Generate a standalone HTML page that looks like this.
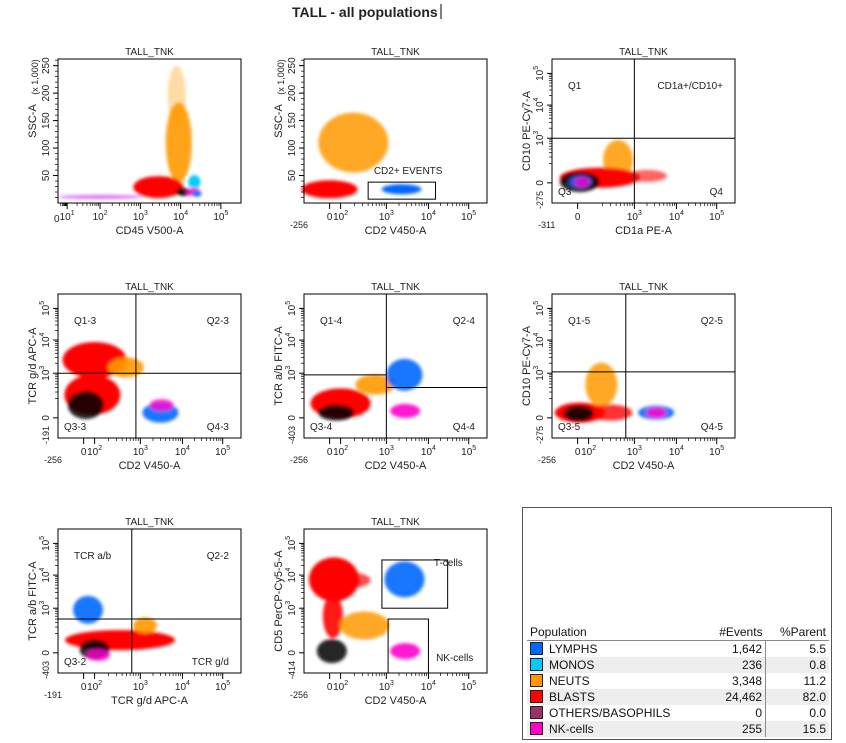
<!DOCTYPE html>
<html><head><meta charset="utf-8"><style>
body{margin:0;background:#fff;font-family:"Liberation Sans",sans-serif;}
svg text{font-family:"Liberation Sans",sans-serif;fill:#222;}
#tbl{position:absolute;left:522px;top:507px;width:310px;height:233px;border:1px solid #555;box-sizing:border-box;font-size:12px;color:#111;}
#tbl table{position:absolute;left:4px;top:116px;width:302px;border-collapse:collapse;}
#tbl td{height:16px;padding:0 3px;line-height:16px;}
.sw{display:inline-block;width:11px;height:11px;border:1px solid #222;vertical-align:-2px;margin-right:6px;}
</style></head><body>
<svg id="fig" width="846" height="743" style="position:absolute;left:0;top:0">
<defs><filter id="bl" x="-50%" y="-50%" width="200%" height="200%"><feGaussianBlur stdDeviation="1.6"/></filter></defs>
<text x="292" y="17" font-size="14" font-weight="bold">TALL - all populations</text>
<line x1="441" y1="4" x2="441" y2="19" stroke="#000"/>
</svg>
<div id="tbl">
<table>
<tr style="border-bottom:1px solid #888"><td>Population</td><td style="text-align:right">#Events</td><td style="text-align:right">%Parent</td></tr>
<tr><td><span class="sw" style="background:#0066ff"></span>LYMPHS</td><td style="text-align:right;border-right:1px solid #888">1,642</td><td style="text-align:right">5.5</td></tr>
<tr style="background:#eee"><td><span class="sw" style="background:#00ccff"></span>MONOS</td><td style="text-align:right;border-right:1px solid #888">236</td><td style="text-align:right">0.8</td></tr>
<tr><td><span class="sw" style="background:#ff9900"></span>NEUTS</td><td style="text-align:right;border-right:1px solid #888">3,348</td><td style="text-align:right">11.2</td></tr>
<tr style="background:#eee"><td><span class="sw" style="background:#ff0000"></span>BLASTS</td><td style="text-align:right;border-right:1px solid #888">24,462</td><td style="text-align:right">82.0</td></tr>
<tr><td><span class="sw" style="background:#993366"></span>OTHERS/BASOPHILS</td><td style="text-align:right;border-right:1px solid #888">0</td><td style="text-align:right">0.0</td></tr>
<tr style="background:#eee"><td><span class="sw" style="background:#ff00cc"></span>NK-cells</td><td style="text-align:right;border-right:1px solid #888">255</td><td style="text-align:right">15.5</td></tr>
</table></div>
<script>
// cluster arrays: [color, xValue, yValue, rxPx, ryPx, opacity]
const p1Clusters=[["#ff9900",9000,110000,13,40,0.9],["#ff9900",8000,195000,9,30,0.35],["#cc33ff",100,11000,42,2,0.7],["#ff0000",2800,29000,25,11,1],["#00ccff",22000,38000,6,7,1],["#000000",12000,20000,8,4,0.9],["#ff00cc",21000,20000,7,4,1],["#0066ff",25000,17000,5,3,1]];
const p2Clusters=[["#ff9900",190,110000,35,30,0.85],["#ff0000",0,25000,28,9,1],["#0066ff",2300,25000,20,5,1]];
const p3Clusters=[["#ff9900",440,250,15,20,0.85],["#ff0000",175,60,40,10,1],["#ff0000",2000,80,20,6,0.6],["#000000",20,10,20,10,0.85],["#0066ff",25,15,12,6,0.8],["#ff00cc",40,10,8,5,0.8]];
const p4Clusters=[["#ff0000",100,2500,32,18,1],["#ff0000",80,250,28,20,1],["#ff9900",480,1500,18,10,0.9],["#000000",20,130,18,14,0.85],["#0066ff",3000,60,18,10,0.9],["#ff00cc",3200,130,12,6,0.8]];
const p5Clusters=[["#ff0000",100,145,30,15,1],["#ff9900",575,480,20,10,0.9],["#000000",60,60,18,8,0.85],["#0066ff",2700,900,18,16,0.9],["#ff00cc",2800,80,15,7,0.9]];
const p6Clusters=[["#ff0000",20,60,25,10,1],["#ff9900",190,480,16,22,0.85],["#ff0000",300,60,22,8,0.8],["#000000",10,50,15,8,0.85],["#0066ff",3300,60,18,7,0.9],["#ff00cc",3300,60,10,5,0.9]];
const p7Clusters=[["#0066ff",40,900,15,14,0.9],["#ff0000",360,130,55,10,1],["#ff9900",1300,330,12,8,0.9],["#000000",100,40,15,10,0.85],["#ff00cc",120,-40,12,6,0.8]];
const p8Clusters=[["#ff0000",40,7400,25,22,1],["#ff0000",150,7000,22,8,0.7],["#ff0000",30,600,10,22,0.9],["#ff9900",330,330,25,14,0.85],["#000000",20,20,15,12,0.85],["#0066ff",2700,7400,20,18,0.9],["#ff00cc",2800,20,15,8,0.9]];
const biexAnchors=[[0,0.14],[100,0.2],[1000,0.45],[10000,0.68],[100000,0.9]];
const logAnchors=[[1,0],[10,0.05],[100,0.23],[1000,0.45],[10000,0.67],[100000,0.89]];
const panelTitle="TALL_TNK";
const svg=document.getElementById('fig');const NS="http://www.w3.org/2000/svg";
function mk(t,a,p){const e=document.createElementNS(NS,t);for(const k in a)e.setAttribute(k,a[k]);(p||svg).appendChild(e);return e;}
function makeAxis(kind,min,max){
 if(kind==='lin')return v=>v/max;
 const an=kind==='log'?logAnchors:[[min,0]].concat(biexAnchors);
 return v=>{if(v<=an[0][0])return an[0][1];
  for(let i=1;i<an.length;i++){const a=an[i-1],b=an[i];if(v<=b[0]){
   if(a[0]>0)return a[1]+(Math.log10(v)-Math.log10(a[0]))/(Math.log10(b[0])-Math.log10(a[0]))*(b[1]-a[1]);
   return a[1]+(v-a[0])/(b[0]-a[0])*(b[1]-a[1]);}}
  const a=an[an.length-2],b=an[an.length-1];return b[1]+(Math.log10(v)-Math.log10(b[0]))/(Math.log10(b[0])-Math.log10(a[0]))*(b[1]-a[1]);};
}
const W=183,H=144;
const panels=[
 {x:58,y:59,xl:"CD45 V500-A",yl:"SSC-A",xk:'log',xmin:1,yk:'lin',ymax:262144,cl:p1Clusters},
 {x:304,y:59,xl:"CD2 V450-A",yl:"SSC-A",xk:'biex',xmin:-256,yk:'lin',ymax:262144,cl:p2Clusters,gates:[[400,15000,7000,38000,"CD2+ EVENTS"]]},
 {x:552,y:59,xl:"CD1a PE-A",yl:"CD10 PE-Cy7-A",xk:'biex',xmin:-311,yk:'biex',ymin:-275,cl:p3Clusters,q:[1000,1000,1000],ql:["Q1","CD1a+/CD10+","Q3","Q4"],no100:true},
 {x:58,y:294,xl:"CD2 V450-A",yl:"TCR g/d APC-A",xk:'biex',xmin:-256,yk:'biex',ymin:-191,cl:p4Clusters,q:[800,1000,1000],ql:["Q1-3","Q2-3","Q3-3","Q4-3"]},
 {x:304,y:294,xl:"CD2 V450-A",yl:"TCR a/b FITC-A",xk:'biex',xmin:-256,yk:'biex',ymin:-403,cl:p5Clusters,q:[1000,900,400],ql:["Q1-4","Q2-4","Q3-4","Q4-4"]},
 {x:552,y:294,xl:"CD2 V450-A",yl:"CD10 PE-Cy7-A",xk:'biex',xmin:-256,yk:'biex',ymin:-275,cl:p6Clusters,q:[650,1100,1100],ql:["Q1-5","Q2-5","Q3-5","Q4-5"]},
 {x:58,y:529,xl:"TCR g/d APC-A",yl:"TCR a/b FITC-A",xk:'biex',xmin:-191,yk:'biex',ymin:-403,cl:p7Clusters,q:[650,500,500],ql:["TCR a/b","Q2-2","Q3-2","TCR g/d"]},
 {x:304,y:529,xl:"CD2 V450-A",yl:"CD5 PerCP-Cy5-5-A",xk:'biex',xmin:-256,yk:'biex',ymin:-414,cl:p8Clusters,gates:[[800,30000,1000,30000,"T-cells"],[1100,10000,-414,500,"NK-cells"]]}
];
panels.forEach((p,pi)=>{
 const g=mk('g',{});
 
 
 const fx=makeAxis(p.xk,p.xmin,0), fy=makeAxis(p.yk,p.ymin,p.ymax);
 const X=v=>p.x+fx(v)*W, Y=v=>p.y+H-fy(v)*H;
 const t=mk('text',{x:p.x+W/2,y:p.y-4,'font-size':10,'text-anchor':'middle'},g);t.textContent=panelTitle;
 
 const cg=mk('g',{filter:'url(#bl)'},g);
 p.cl.forEach(c=>{const e=mk('ellipse',{cx:X(c[1]),cy:Y(c[2]),rx:c[3],ry:c[4],fill:c[0],'fill-opacity':c[5]},cg);
  });
 mk('rect',{x:p.x,y:p.y,width:W,height:H,fill:'none',stroke:'#000'},g);
 const xt=p.xk==='log'?[10,100,1000,10000,100000]:(p.no100?[0,1000,10000,100000]:[0,100,1000,10000,100000]);
 xt.forEach(v=>{mk('line',{x1:X(v),y1:p.y+H,x2:X(v),y2:p.y+H+6,stroke:'#000'},g);
  const tx=mk('text',{x:X(v),y:p.y+H+17,'font-size':10,'text-anchor':'middle'},g);
  if(v===0)tx.textContent='0';else{tx.textContent='10';const s=mk('tspan',{dy:-5,'font-size':7},tx);s.textContent=String(Math.round(Math.log10(v)));}});
 for(let d=(p.xk==='log'?1:100);d<100000;d*=10)for(let k=2;k<10;k++){const v=d*k;mk('line',{x1:X(v),y1:p.y+H,x2:X(v),y2:p.y+H+3,stroke:'#000','stroke-width':0.7},g);}
 if(p.xk==='log'){const z=mk('text',{x:p.x-4,y:p.y+H+19,'font-size':10},g);z.textContent='0';}
 else{const z=mk('text',{x:p.x-14,y:p.y+H+25,'font-size':9},g);z.textContent=String(p.xmin);}
 const xl=mk('text',{x:p.x+W/2,y:p.y+H+31,'font-size':11,'text-anchor':'middle'},g);xl.textContent=p.xl;
 
 const yt=p.yk==='lin'?[50000,100000,150000,200000,250000]:[0,1000,10000,100000];
 yt.forEach(v=>{mk('line',{x1:p.x-5,y1:Y(v),x2:p.x,y2:Y(v),stroke:'#000'},g);
  const ty=mk('text',{x:0,y:0,'font-size':10,'text-anchor':'middle',transform:`translate(${p.x-9},${Y(v)}) rotate(-90)`},g);
  if(p.yk==='lin')ty.textContent=String(v/1000);else if(v===0)ty.textContent='0';else{ty.textContent='10';const s=mk('tspan',{dy:-5,'font-size':7},ty);s.textContent=String(Math.round(Math.log10(v)));}});
 if(p.yk!=='lin'){for(let d=100;d<100000;d*=10)for(let k=2;k<10;k++){const v=d*k;mk('line',{x1:p.x-3,y1:Y(v),x2:p.x,y2:Y(v),stroke:'#000','stroke-width':0.7},g);}
  const m=mk('text',{x:0,y:0,'font-size':9,'text-anchor':'middle',transform:`translate(${p.x-9},${p.y+H-3}) rotate(-90)`},g);m.textContent=String(p.ymin);}
 else{for(let v=10000;v<262144;v+=10000)mk('line',{x1:p.x-3,y1:Y(v),x2:p.x,y2:Y(v),stroke:'#000','stroke-width':0.7},g);
  const m=mk('text',{x:0,y:0,'font-size':9,'text-anchor':'middle',transform:`translate(${p.x-20},${p.y+18}) rotate(-90)`},g);m.textContent='(x 1,000)';}
 const yl=mk('text',{x:0,y:0,'font-size':11,'text-anchor':'middle',transform:`translate(${p.x-22},${p.y+(p.yk==='lin'?62:H/2)}) rotate(-90)`},g);yl.textContent=p.yl;
 
 if(p.q){const qx=X(p.q[0]);
  mk('line',{x1:qx,y1:p.y,x2:qx,y2:p.y+H,stroke:'#000'},g);
  mk('line',{x1:p.x,y1:Y(p.q[1]),x2:qx,y2:Y(p.q[1]),stroke:'#000'},g);
  mk('line',{x1:qx,y1:Y(p.q[2]),x2:p.x+W,y2:Y(p.q[2]),stroke:'#000'},g);
  const pos=[[p.x+16,p.y+30,'start'],[p.x+W-12,p.y+30,'end'],[p.x+6,p.y+H-8,'start'],[p.x+W-12,p.y+H-8,'end']];
  p.ql.forEach((s,i)=>{const q=mk('text',{x:pos[i][0],y:pos[i][1],'font-size':10,'text-anchor':pos[i][2]},g);q.textContent=s;
   });}
 if(p.gates)p.gates.forEach(gt=>{const x1=X(gt[0]),x2=X(gt[1]),y1=Y(gt[3]),y2=Y(gt[2]);
  const r=mk('rect',{x:x1,y:y1,width:x2-x1,height:y2-y1,fill:'none',stroke:'#000'},g);
  
  const gl=mk('text',{x:pi===1?x1+40:x1+(gt[4]==='T-cells'?52:48),y:pi===1?y1-8:(gt[4]==='T-cells'?y1+6:y2-12),'font-size':10,'text-anchor':pi===1?'middle':'start'},g);gl.textContent=gt[4];
  });
});
</script>
</body></html>
